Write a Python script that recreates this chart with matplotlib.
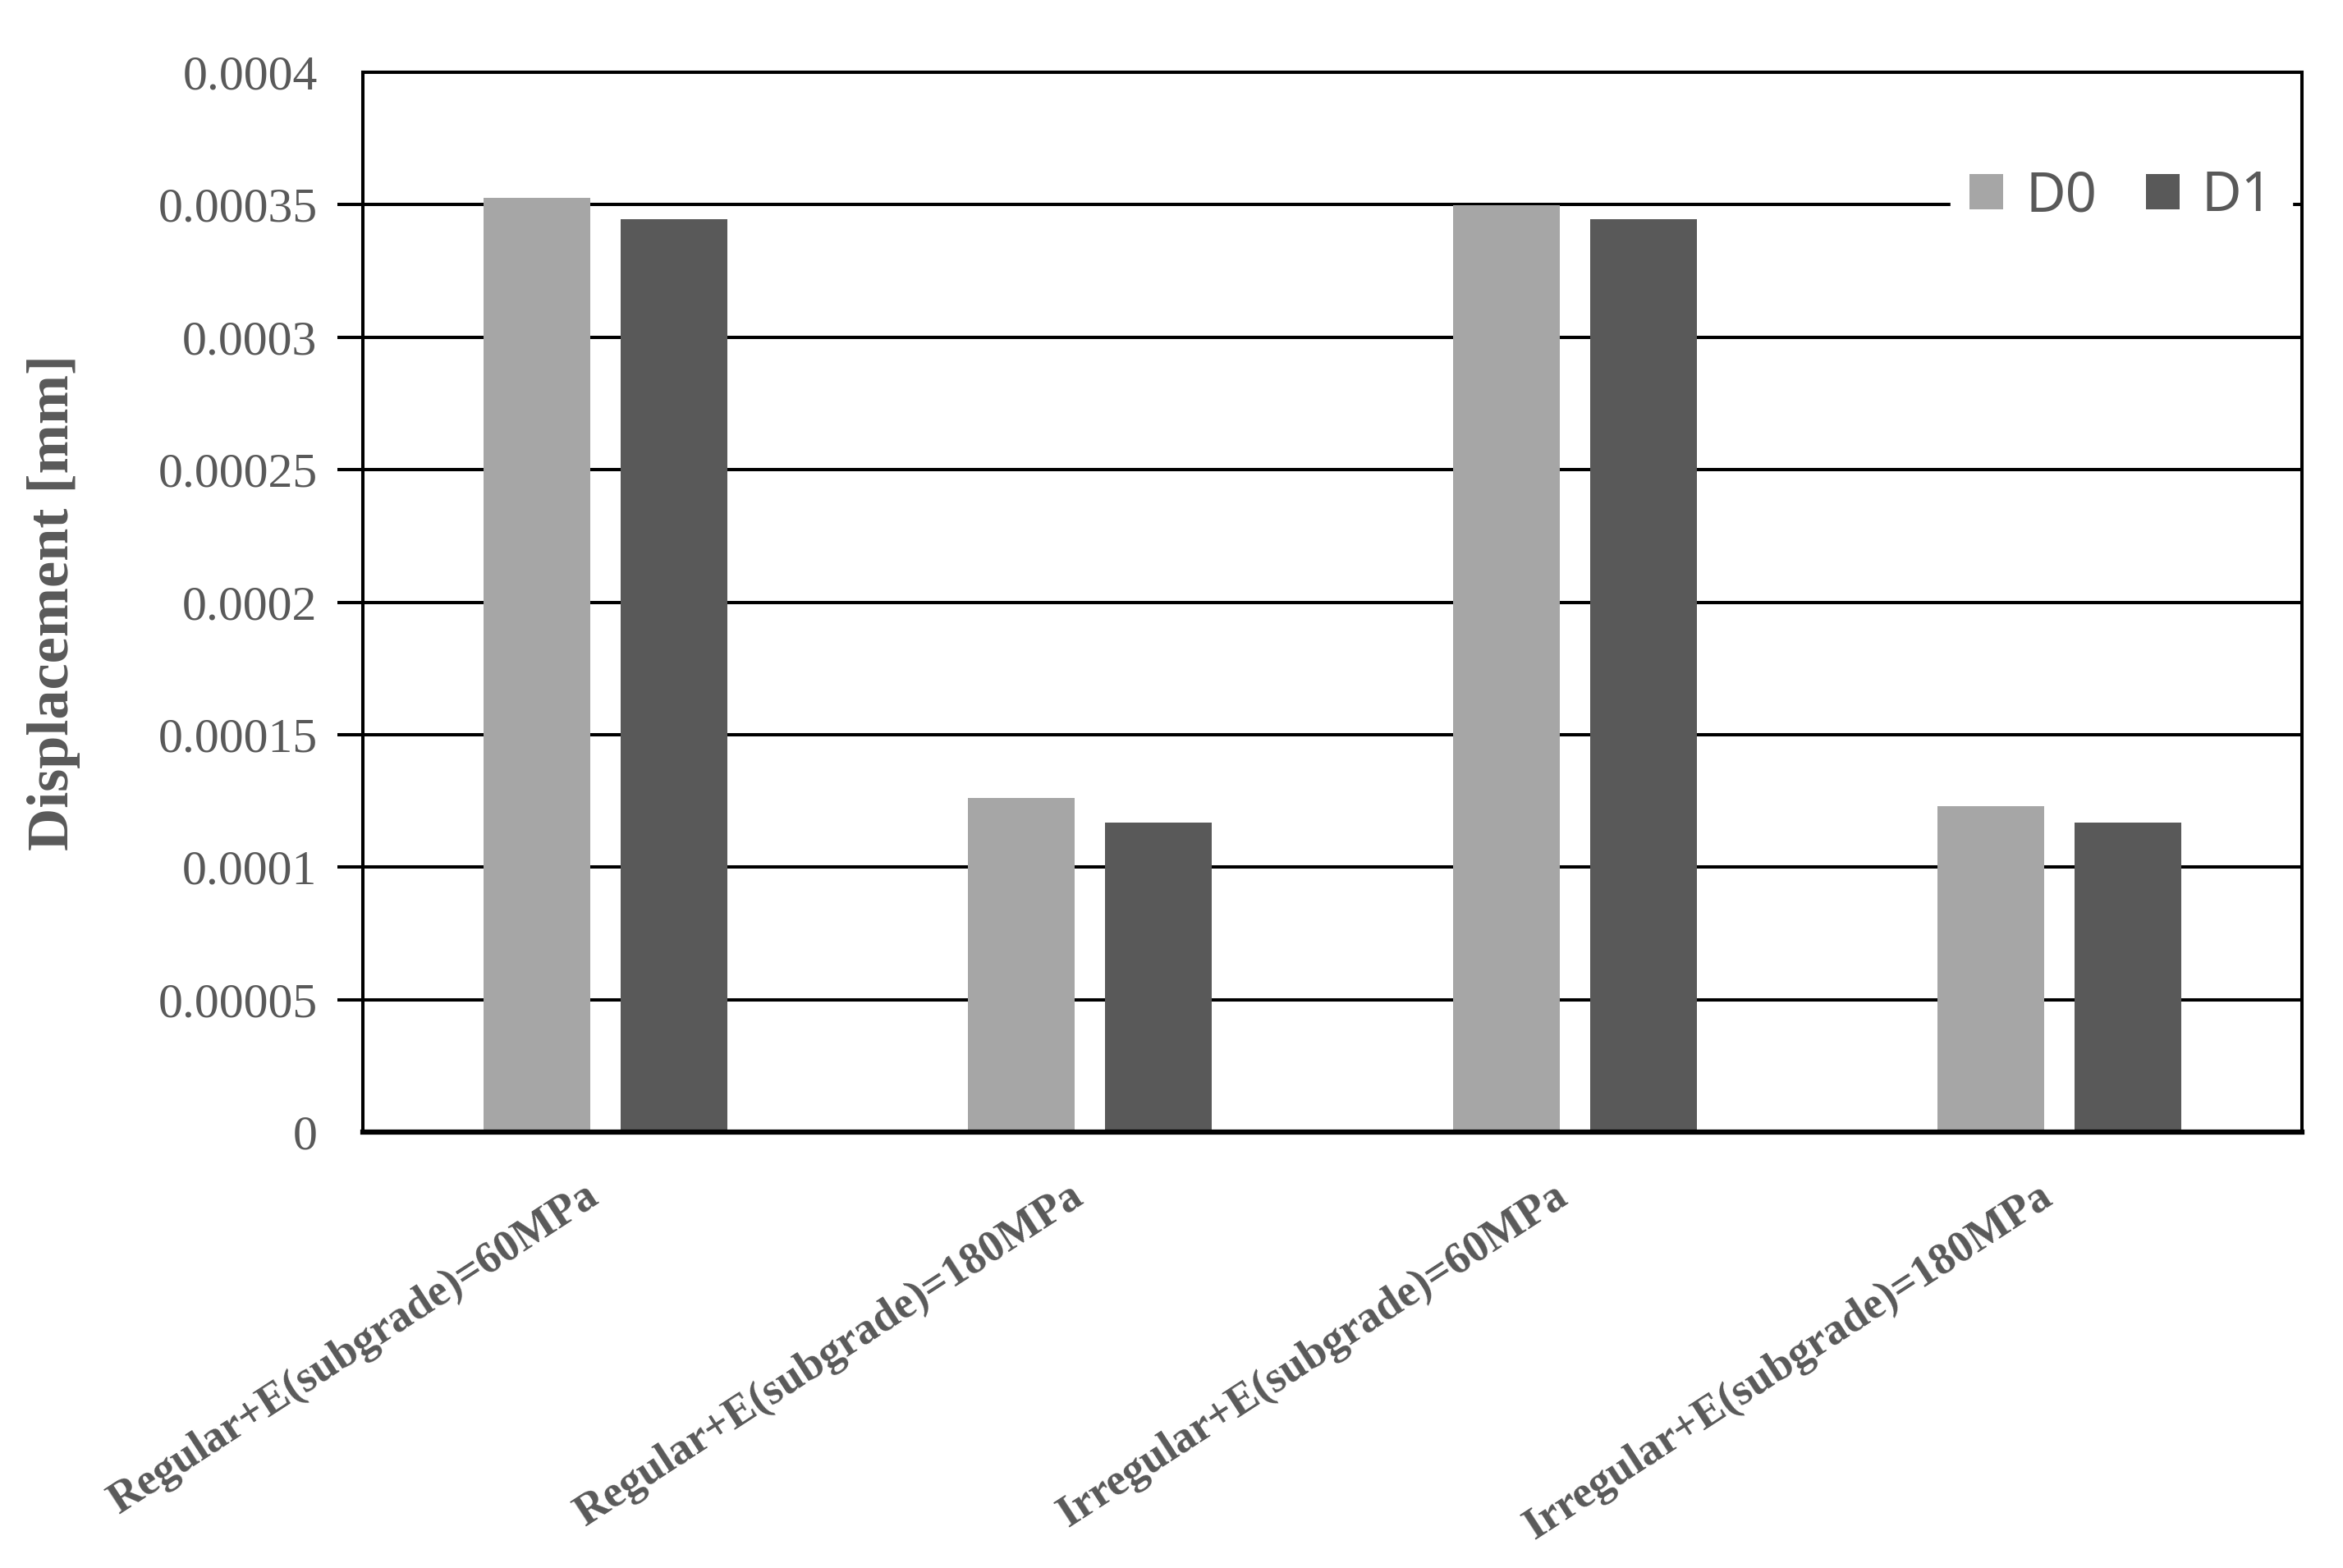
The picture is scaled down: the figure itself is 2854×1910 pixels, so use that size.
import matplotlib.pyplot as plt
import numpy as np

categories = ["Regular+E(subgrade)=60MPa", "Regular+E(subgrade)=180MPa",
              "Irregular+E(subgrade)=60MPa", "Irregular+E(subgrade)=180MPa"]
d0 = [0.0003526, 0.0001261, 0.0003498, 0.000123]
d1 = [0.0003445, 0.0001168, 0.0003445, 0.0001168]
y_ticks = [0, 0.00005, 0.0001, 0.00015, 0.0002, 0.00025, 0.0003, 0.00035, 0.0004]
y_tick_labels = ["0", "0.00005", "0.0001", "0.00015", "0.0002", "0.00025",
                 "0.0003", "0.00035", "0.0004"]

SERIF = "Liberation Serif"
TXT = "#595959"

fig = plt.figure(figsize=(28.54, 19.10), dpi=100)
ax = fig.add_axes([0.1549, 0.278, 0.8276, 0.6759])

x = np.arange(len(categories))
w = 0.22
ax.bar(x - 0.1415, d0, w, color="#a6a6a6", label="D0", zorder=2)
ax.bar(x + 0.1415, d1, w, color="#595959", label="D1", zorder=2)

ax.set_xlim(-0.5, len(categories) - 0.5)
ax.set_ylim(0, 0.0004)
ax.set_yticks(y_ticks)
ax.set_yticklabels(y_tick_labels, fontfamily=SERIF, fontsize=43, color=TXT)
ax.yaxis.grid(True, color="black", linewidth=2.9)
ax.set_axisbelow(True)
ax.tick_params(axis="y", length=22, width=2.9, pad=18)
# no outward tick at the bottom and top of the axis
yt = ax.yaxis.get_major_ticks()
yt[0].tick1line.set_visible(False)
yt[-1].tick1line.set_visible(False)

ax.set_xticks(x)
ax.set_xticklabels(categories, rotation=33, ha="right", va="top",
                   fontfamily=SERIF, fontweight="bold", fontsize=39, color=TXT)
ax.tick_params(axis="x", length=0, pad=38)

for s in ax.spines.values():
    s.set_linewidth(2.9)
    s.set_color("black")
ax.spines["bottom"].set_linewidth(4.5)

ax.set_ylabel("Displacement [mm]", fontfamily=SERIF, fontweight="bold",
              fontsize=52, color=TXT, labelpad=68)

leg = ax.legend(loc="center right", bbox_to_anchor=(0.995, 0.883), ncol=2,
                frameon=True, fancybox=False, framealpha=1, edgecolor="white",
                prop={"family": "Noto Sans", "size": 48, "weight": "medium"},
                handlelength=0.62, handleheight=0.62, handletextpad=0.4,
                columnspacing=0.9, borderpad=0.35, borderaxespad=0)
for t in leg.get_texts():
    t.set_color(TXT)

fig.savefig("out.png", dpi=100)
